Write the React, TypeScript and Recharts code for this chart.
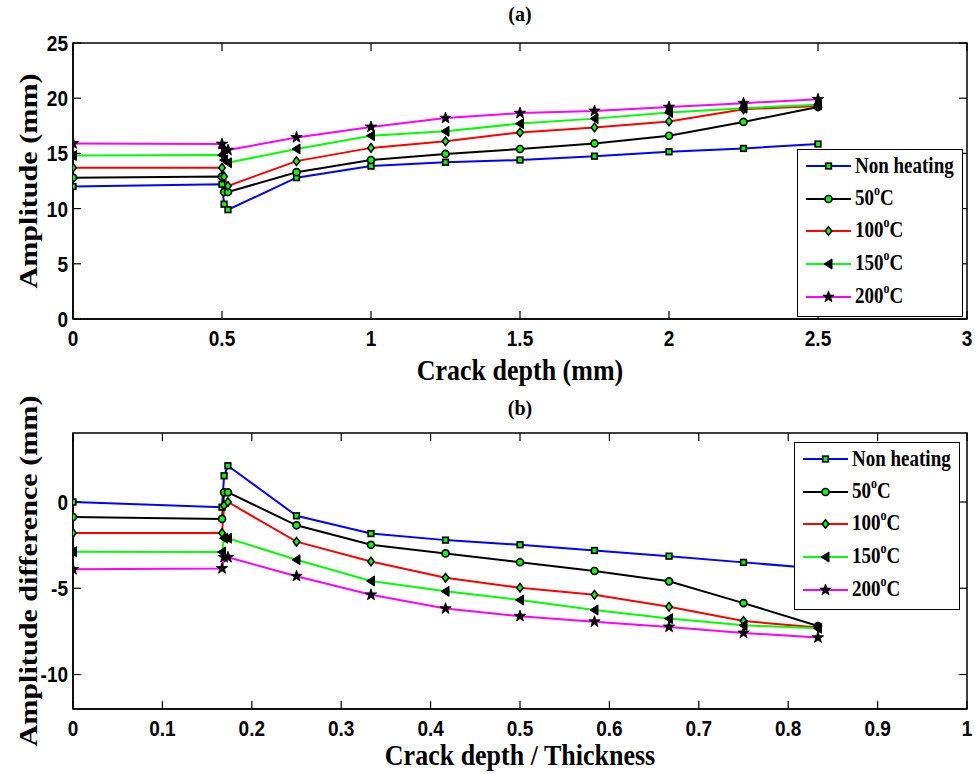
import React from 'react';
import { LineChart, Line, XAxis, YAxis, Legend } from 'recharts';

// ---------- data ----------
const depthA = [0, 0.5, 0.507, 0.52, 0.75, 1, 1.25, 1.5, 1.75, 2, 2.25, 2.5];
const nonHeatA = [12.0, 12.2, 10.4, 9.9, 12.8, 13.85, 14.2, 14.4, 14.75, 15.15, 15.45, 15.85];
const c50A = [12.8, 12.9, 11.5, 11.5, 13.3, 14.4, 14.95, 15.4, 15.9, 16.6, 17.85, 19.2];
const c100A = [13.7, 13.7, 12.9, 12.05, 14.3, 15.5, 16.1, 16.9, 17.35, 17.9, 19.0, 19.3];
const c150A = [14.8, 14.85, 14.4, 14.15, 15.4, 16.6, 17.0, 17.7, 18.15, 18.7, 19.1, 19.4];
const c200A = [15.9, 15.85, 15.4, 15.3, 16.45, 17.4, 18.2, 18.65, 18.85, 19.2, 19.55, 19.9];

const ratioB = [0, 0.1667, 0.169, 0.1733, 0.25, 0.3333, 0.4167, 0.5, 0.5833, 0.6667, 0.75, 0.8333];
const nonHeatB = [0, -0.3, 1.52, 2.1, -0.8, -1.83, -2.21, -2.48, -2.81, -3.14, -3.5, -3.85];
const c50B = [-0.87, -0.98, 0.56, 0.56, -1.35, -2.48, -2.98, -3.49, -4.0, -4.6, -5.86, -7.19];
const c100B = [-1.8, -1.8, -0.2, 0.0, -2.3, -3.45, -4.39, -4.97, -5.38, -6.07, -6.9, -7.28];
const c150B = [-2.88, -2.9, -2.1, -2.1, -3.35, -4.58, -5.18, -5.68, -6.26, -6.76, -7.15, -7.32];
const c200B = [-3.9, -3.85, -3.2, -3.2, -4.3, -5.38, -6.18, -6.62, -6.94, -7.24, -7.59, -7.86];

const xTicksA = [0, 0.5, 1, 1.5, 2, 2.5, 3];
const yTicksA = [0, 5, 10, 15, 20, 25];
const xTicksB = [0, 0.1, 0.2, 0.3, 0.4, 0.5, 0.6, 0.7, 0.8, 0.9, 1];
const yTicksB = [-10, -5, 0];

const seriesKeys = ['nonHeating', 'c50', 'c100', 'c150', 'c200'];
const seriesLabels = ['Non heating', '50', '100', '150', '200'];
const seriesColors = ['#0000ff', '#000000', '#ff0000', '#00ff00', '#ff00ff'];
const seriesMarkers = ['square', 'circle', 'diamond', 'triangle', 'star'];

const dataA = depthA.map((d, i) => ({
  x: d,
  nonHeating: nonHeatA[i],
  c50: c50A[i],
  c100: c100A[i],
  c150: c150A[i],
  c200: c200A[i],
}));
const dataB = ratioB.map((d, i) => ({
  x: d,
  nonHeating: nonHeatB[i],
  c50: c50B[i],
  c100: c100B[i],
  c150: c150B[i],
  c200: c200B[i],
}));

// ---------- layout ----------
const W = 975;
const YW = 73;
const XH = 30;
const RIGHT_M = 8;
const PLOT_TOP = 43;
const PLOT_BOTTOM = 319;
const PLOT_LEFT = YW;
const PLOT_RIGHT = W - RIGHT_M;
const PLOT_W = PLOT_RIGHT - PLOT_LEFT;
const PLOT_H = PLOT_BOTTOM - PLOT_TOP;
const PLOT_CX = (PLOT_LEFT + PLOT_RIGHT) / 2;
const PLOT_CY = (PLOT_TOP + PLOT_BOTTOM) / 2;
const TICK_LEN = 8;

const SERIF = '"Liberation Serif", "Times New Roman", Times, serif';
const SANS = '"Liberation Sans", Arial, Helvetica, sans-serif';
const GREEN = '#00ff00';

function starPoints(cx: number, cy: number, R: number, r: number) {
  const pts: string[] = [];
  for (let k = 0; k < 10; k++) {
    const ang = -Math.PI / 2 + (k * Math.PI) / 5;
    const rad = k % 2 === 0 ? R : r;
    pts.push(`${cx + rad * Math.cos(ang)},${cy + rad * Math.sin(ang)}`);
  }
  return pts.join(' ');
}

function markerShape(kind: string, cx: number, cy: number, key: string) {
  switch (kind) {
    case 'square':
      return (
        <rect key={key} x={cx - 2.8} y={cy - 2.8} width={5.6} height={5.6} fill={GREEN} stroke="#000" strokeWidth={1.7} />
      );
    case 'circle':
      return <circle key={key} cx={cx} cy={cy} r={3.5} fill={GREEN} stroke="#000" strokeWidth={1.7} />;
    case 'diamond':
      return (
        <polygon
          key={key}
          points={`${cx},${cy - 4.3} ${cx + 3.3},${cy} ${cx},${cy + 4.3} ${cx - 3.3},${cy}`}
          fill={GREEN}
          stroke="#000"
          strokeWidth={1.5}
        />
      );
    case 'triangle':
      return (
        <polygon
          key={key}
          points={`${cx - 4.5},${cy} ${cx + 3.5},${cy - 5} ${cx + 3.5},${cy + 5}`}
          fill="#000"
          stroke="#000"
          strokeWidth={1}
        />
      );
    default:
      return <polygon key={key} points={starPoints(cx, cy, 6, 2.4)} fill="#000" stroke="#000" strokeWidth={0.8} />;
  }
}

const renderDot = (kind: string) => (props: any) => {
  const { cx, cy, index } = props;
  if (cx == null || cy == null) return <g key={`e-${kind}-${index}`} />;
  return markerShape(kind, cx, cy, `${kind}-${index}`);
};

function XTick(props: any) {
  const { x, y, payload } = props;
  return (
    <g transform={`translate(${x},${y})`}>
      <text transform="scale(1,1.18)" textAnchor="middle" dy="0.71em" fontFamily={SANS} fontWeight="bold" fontSize={19} fill="#000">
        {String(payload.value)}
      </text>
    </g>
  );
}

function YTick(props: any) {
  const { x, y, payload } = props;
  return (
    <g transform={`translate(${x},${y})`}>
      <text transform="scale(1,1.18)" textAnchor="end" dy="0.355em" fontFamily={SANS} fontWeight="bold" fontSize={19} fill="#000">
        {String(payload.value)}
      </text>
    </g>
  );
}

function LegendLabel({ label }: { label: string }) {
  if (label === 'Non heating') return <span>{label}</span>;
  return (
    <span>
      {label}
      <span style={{ fontSize: 12, position: 'relative', top: -8 }}>o</span>C
    </span>
  );
}

function LegendBox() {
  return (
    <div
      style={{
        width: '100%',
        height: '100%',
        boxSizing: 'border-box',
        border: '1.5px solid #000',
        background: '#fff',
      }}
    >
      {seriesKeys.map((k, i) => (
        <div key={k} style={{ height: 32.6, display: 'flex', alignItems: 'center' }}>
          <svg width={57} height={22} style={{ display: 'block', flex: '0 0 auto' }}>
            <line x1={8} x2={53} y1={11} y2={11} stroke={seriesColors[i]} strokeWidth={2} />
            {markerShape(seriesMarkers[i], 30.5, 11, `lg-${k}`)}
          </svg>
          <span
            style={{
              display: 'inline-block',
              fontFamily: SERIF,
              fontWeight: 'bold',
              fontSize: 19,
              lineHeight: '20px',
              transform: 'scaleY(1.22)',
              whiteSpace: 'nowrap',
              color: '#000',
            }}
          >
            <LegendLabel label={seriesLabels[i]} />
          </span>
        </div>
      ))}
    </div>
  );
}

type PanelProps = {
  height: number;
  data: any[];
  xDomain: number[];
  xTicks: number[];
  yDomain: number[];
  yTicks: number[];
  title: string;
  titleBaseline: number;
  xTitle: string;
  xTitleBaseline: number;
  yTitle: string;
  legendLeft: number;
  legendTop: number;
};

function Panel(p: PanelProps) {
  const margin = { top: PLOT_TOP, right: RIGHT_M, bottom: p.height - PLOT_BOTTOM - XH, left: 0 };
  const [x0, x1] = p.xDomain;
  const [y0, y1] = p.yDomain;
  const px = (v: number) => PLOT_LEFT + ((v - x0) / (x1 - x0)) * PLOT_W;
  const py = (v: number) => PLOT_TOP + ((y1 - v) / (y1 - y0)) * PLOT_H;

  // Box frame + inward ticks + titles, drawn in the axis label layer
  const xTitleContent = () => (
    <g>
      <rect x={PLOT_LEFT} y={PLOT_TOP} width={PLOT_W} height={PLOT_H} fill="none" stroke="#000" strokeWidth={1.5} />
      {p.xTicks.map((t) => (
        <g key={`xt-${t}`}>
          <line x1={px(t)} x2={px(t)} y1={PLOT_BOTTOM} y2={PLOT_BOTTOM - TICK_LEN} stroke="#000" strokeWidth={1.2} />
          <line x1={px(t)} x2={px(t)} y1={PLOT_TOP} y2={PLOT_TOP + TICK_LEN} stroke="#000" strokeWidth={1.2} />
        </g>
      ))}
      {p.yTicks.map((t) => (
        <g key={`yt-${t}`}>
          <line x1={PLOT_LEFT} x2={PLOT_LEFT + TICK_LEN} y1={py(t)} y2={py(t)} stroke="#000" strokeWidth={1.2} />
          <line x1={PLOT_RIGHT} x2={PLOT_RIGHT - TICK_LEN} y1={py(t)} y2={py(t)} stroke="#000" strokeWidth={1.2} />
        </g>
      ))}
      <text x={PLOT_CX} y={p.titleBaseline} textAnchor="middle" fontFamily={SERIF} fontWeight="bold" fontSize={20} fill="#000">
        {p.title}
      </text>
      <text
        transform={`translate(${PLOT_CX},${p.xTitleBaseline}) scale(1,1.12)`}
        textAnchor="middle"
        fontFamily={SERIF}
        fontWeight="bold"
        fontSize={26}
        fill="#000"
      >
        {p.xTitle}
      </text>
    </g>
  );
  const yTitleContent = () => (
    <text
      transform={`translate(37,${PLOT_CY}) rotate(-90) scale(1.16,1)`}
      textAnchor="middle"
      fontFamily={SERIF}
      fontWeight="bold"
      fontSize={26}
      fill="#000"
    >
      {p.yTitle}
    </text>
  );
  const axisLine = { stroke: '#000', strokeWidth: 1.5 };
  return (
    <LineChart width={W} height={p.height} data={p.data} margin={margin}>
      <XAxis
        dataKey="x"
        type="number"
        domain={p.xDomain}
        allowDataOverflow
        ticks={p.xTicks}
        interval={0}
        height={XH}
        tickSize={0}
        tickMargin={11}
        axisLine={axisLine}
        tickLine={false}
        tick={<XTick />}
        label={xTitleContent}
      />
      <YAxis
        type="number"
        domain={p.yDomain}
        allowDataOverflow
        ticks={p.yTicks}
        interval={0}
        width={YW}
        tickSize={0}
        tickMargin={5}
        axisLine={axisLine}
        tickLine={false}
        tick={<YTick />}
        label={yTitleContent}
      />
      <Legend
        layout="vertical"
        align="center"
        verticalAlign="middle"
        wrapperStyle={{ left: p.legendLeft, top: p.legendTop, width: 166, height: 168 }}
        content={() => <LegendBox />}
      />
      {seriesKeys.map((k, i) => (
        <Line
          key={k}
          type="linear"
          dataKey={k}
          name={seriesLabels[i]}
          stroke={seriesColors[i]}
          strokeWidth={2}
          dot={renderDot(seriesMarkers[i])}
          activeDot={false}
          isAnimationActive={false}
        />
      ))}
    </LineChart>
  );
}

export default function App() {
  return (
    <div style={{ position: 'absolute', left: 0, top: 0, width: W, height: 774, background: '#fff', overflow: 'hidden' }}>
      <div style={{ position: 'absolute', left: 0, top: 0 }}>
        <Panel
          height={390}
          data={dataA}
          xDomain={[0, 3]}
          xTicks={xTicksA}
          yDomain={[0, 25]}
          yTicks={yTicksA}
          title="(a)"
          titleBaseline={21}
          xTitle="Crack depth (mm)"
          xTitleBaseline={380}
          yTitle="Amplitude (mm)"
          legendLeft={797}
          legendTop={149}
        />
      </div>
      <div style={{ position: 'absolute', left: 0, top: 390 }}>
        <Panel
          height={384}
          data={dataB}
          xDomain={[0, 1]}
          xTicks={xTicksB}
          yDomain={[-12, 4]}
          yTicks={yTicksB}
          title="(b)"
          titleBaseline={25}
          xTitle="Crack depth / Thickness"
          xTitleBaseline={375}
          yTitle="Amplitude difference (mm)"
          legendLeft={794}
          legendTop={52}
        />
      </div>
    </div>
  );
}
